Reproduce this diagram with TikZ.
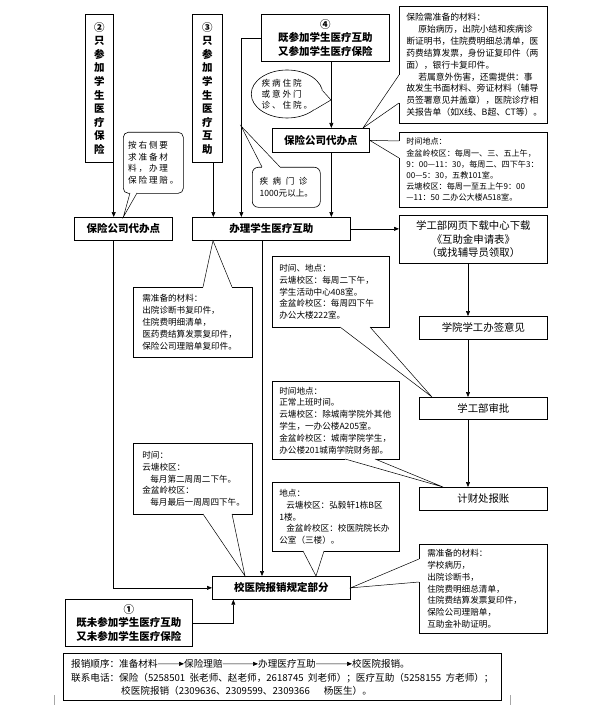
\documentclass[tikz,border=0pt]{standalone}
\usepackage{fontspec}
\setmainfont{Noto Sans CJK SC}
\newfontfamily\widefont[LetterSpace=22]{Noto Sans CJK SC}
\usetikzlibrary{arrows.meta,shapes.geometric}
\newcommand\myfs[2]{\fontsize{#1}{#2}\selectfont}
\newcommand\calltail[3]{%
  \fill[white] #1 -- #2 -- #3 -- cycle;
  \draw[white, line width=1.6pt] #1 -- #3;
  \draw[tailline] #1 -- #2 -- #3;}
\tikzset{
  boxs/.style={draw, line width=0.7pt, inner sep=0pt, anchor=north west, align=center},
  bld/.style={font=\bfseries\myfs{10.5}{13.6}},
  nrm/.style={font=\myfs{10.4}{13.3}},
  note/.style={draw, line width=0.6pt, inner ysep=0pt, inner xsep=7pt, anchor=north west, align=left, font=\myfs{8.6}{11.8}},
  arr/.style={line width=0.6pt, -{Triangle[length=5pt,width=4pt]}},
  tailline/.style={line width=0.5pt},
}
\begin{document}
\begin{tikzpicture}[x=1pt,y=-1pt]
\useasboundingbox (0,0) rectangle (593,722);

% ---------- main boxes
\node[boxs,bld,minimum width=28pt,minimum height=148pt] (n2) at (85,14) {②\\只\\参\\加\\学\\生\\医\\疗\\保\\险};
\node[boxs,bld,minimum width=30pt,minimum height=148pt] (n3) at (192,14) {③\\只\\参\\加\\学\\生\\医\\疗\\互\\助};
\node[boxs,bld,minimum width=128pt,minimum height=47pt] (n4) at (261,14) {④\\既参加学生医疗互助\\又参加学生医疗保险};
\node[boxs,bld,minimum width=98pt,minimum height=23pt] (lb) at (74,217) {保险公司代办点};
\node[boxs,bld,minimum width=97pt,minimum height=24pt] (mb) at (272,128) {保险公司代办点};
\node[boxs,bld,minimum width=158pt,minimum height=23pt] (mz) at (192,217) {办理学生医疗互助};
\node[boxs,nrm,minimum width=148pt,minimum height=48pt] (ul) at (399,215) {学工部网页下载中心下载\\《互助金申请表》\\（或找辅导员领取）};
\node[boxs,nrm,minimum width=128pt,minimum height=23pt] (xy) at (419,316) {学院学工办签意见};
\node[boxs,nrm,minimum width=128pt,minimum height=22pt] (sp) at (419,397) {学工部审批};
\node[boxs,nrm,minimum width=128pt,minimum height=23pt] (jc) at (419,487) {计财处报账};
\node[boxs,bld,minimum width=138pt,minimum height=23pt] (xb) at (212,576) {校医院报销规定部分};
\node[boxs,bld,minimum width=127pt,minimum height=47pt] (n1) at (65,599) {①\\既未参加学生医疗互助\\又未参加学生医疗保险};

% ---------- connectors
\coordinate (vx) at (468,0);
\coordinate (vy) at (262,0);
\draw[arr] (n2.south east) -- (n2.south east |- lb.north);
\draw[arr] ([xshift=6pt]n3.south) -- ([xshift=6pt]n3.south |- mz.north);
\draw[arr] (n4.west) -| ([xshift=-30pt]mz.north);
\draw[arr] ([xshift=6pt]n4.south) -- ([xshift=6pt]n4.south |- mb.north);
\draw[arr] ([xshift=10.5pt]mb.south) -- ([xshift=10.5pt]mb.south |- mz.north);
\draw[arr] (mz.east) -- (mz.east -| ul.west);
\draw[arr] (vx |- ul.south) -- (vx |- xy.north);
\draw[arr] (vx |- xy.south) -- (vx |- sp.north);
\draw[arr] (vx |- sp.south) -- (vx |- jc.north);
\draw[arr] (n2.south east |- lb.south) |- (xb.west);
\draw[arr] (vy |- mz.south) -- (vy |- xb.north);
\draw[arr] (n1.east) -| ([xshift=-48pt]xb.south);

% ---------- callouts
\node[draw, line width=0.6pt, rounded corners=5pt, anchor=north west, minimum width=60pt, minimum height=61pt, inner sep=0pt, align=left, font=\widefont\myfs{8.6}{11.6}] (c1) at (123,132) {按右侧要\\求准备材\\料，办理\\保险理赔。};
\calltail{(130,193)}{(lb.north)}{(137,193)}

\node[draw, ellipse, line width=0.6pt, minimum width=70pt, minimum height=48pt, inner sep=0pt, align=left, font=\widefont\myfs{8.6}{11}] (c2) at (287,94) {疾病住院\\或意外门\\诊、住院。};
\calltail{(c2.5)}{(331,100)}{(c2.-30)}

\node[draw, line width=0.6pt, rounded corners=6pt, anchor=north west, minimum width=68pt, minimum height=40pt, inner sep=0pt, align=left, font=\myfs{8.6}{12}] (c3) at (252,167) {疾\hspace{4.5pt}病\hspace{4.5pt}门\hspace{4.5pt}诊\\1000元以上。};
\calltail{(262,167)}{(241,126)}{(280,167)}

\node[note, minimum width=148pt, minimum height=117pt, text width=134pt, font=\myfs{8.8}{11.9}] (c4) at (399,6) {保险需准备的材料：\\\hspace*{12pt}原始病历，出院小结和疾病诊\\断证明书，住院费明细总清单，医\\药费结算发票，身份证复印件（两\\面），银行卡复印件。\\\hspace*{12pt}若属意外伤害，还需提供：事\\故发生书面材料、旁证材料（辅导\\员签署意见并盖章），医院诊疗相\\关报告单（如X线、B超、CT等）。};
\calltail{(399,75)}{(363,128)}{(399,103)}

\node[note, minimum width=148pt, minimum height=75pt, text width=134pt, font=\myfs{8.1}{11.2}] (c5) at (399,132) {\mbox{时间地点：}\\\mbox{金盆岭校区：每周一、三、五上午，}\\\mbox{9：00—11：30，每周二、四下午3：}\\\mbox{00—5：30，五教101室。}\\\mbox{云塘校区：每周一至五上午9：00}\\\mbox{—11：50 二办公大楼A518室。}};
\calltail{(399,141)}{(mb.east)}{(399,158)}

\node[note, minimum width=117pt, minimum height=71pt, text width=103pt] (c6) at (272,256) {时间、地点：\\云塘校区：每周二下午，\\学生活动中心408室。\\金盆岭校区：每周四下午\\办公大楼222室。};
\calltail{(340,327)}{([xshift=13pt]sp.north west)}{(370,327)}

\node[note, minimum width=119pt, minimum height=70pt, inner xsep=9pt, text width=101pt] (c7) at (133,287) {需准备的材料：\\出院诊断书复印件，\\住院费明细清单，\\医药费结算发票复印件，\\保险公司理赔单复印件。};
\calltail{(203,287)}{([xshift=21pt]mz.south west)}{(232,287)}

\node[note, minimum width=127pt, minimum height=78pt, text width=113pt] (c8) at (272,381) {时间地点：\\正常上班时间。\\云塘校区：除城南学院外其他\\学生，一办公楼A205室。\\金盆岭校区：城南学院学生，\\办公楼201城南学院财务部。};
\calltail{(345,459)}{([xshift=24pt]jc.north west)}{(375,459)}

\node[note, minimum width=127pt, minimum height=69pt, text width=113pt] (c9) at (272,482) {地点：\\\hspace*{7pt}云塘校区：弘毅轩1栋B区\\1楼。\\\hspace*{7pt}金盆岭校区：校医院院长办\\公室（三楼）。};
\calltail{(303,551)}{([xshift=104pt]xb.north west)}{(324,551)}

\node[note, minimum width=119pt, minimum height=71pt, inner xsep=9pt, text width=101pt] (c10) at (133,443) {时间：\\云塘校区：\\\hspace*{8pt}每月第二周周二下午。\\金盆岭校区：\\\hspace*{8pt}每月最后一周周四下午。};
\calltail{(203,514)}{([xshift=33pt]xb.north west)}{(232,514)}

\node[note, minimum width=128pt, minimum height=89pt, inner xsep=8pt, text width=112pt, font=\myfs{8.6}{11.7}] (c11) at (419,544) {需准备的材料：\\学校病历，\\出院诊断书，\\住院费明细总清单，\\住院费结算发票复印件，\\保险公司理赔单，\\互助金补助证明。};
\calltail{(419,559)}{(xb.east)}{(419,582)}

% ---------- bottom box
\node[draw, line width=0.7pt, anchor=north west, minimum width=438pt, minimum height=47pt, inner sep=0pt] (bb) at (63,653) {};
\begin{scope}[every node/.style={anchor=base west, inner sep=0pt, font=\myfs{9.6}{13}}]
\node (s1) at (71,667.5) {报销顺序：准备材料};
\node (s2) at (184,667.5) {保险理赔};
\node (s3) at (258,667.5) {办理医疗互助};
\node (s4) at (352,667.5) {校医院报销。};
\node (l2) at (71,681.5) {联系电话：保险（5258501\ \ 张老师、赵老师，2618745\ \ 刘老师）；医疗互助（5258155\ \ 方老师）；};
\node (l3) at (121,694.5) {校医院报销（2309636、2309599、2309366\hspace{14pt}杨医生）。};
\end{scope}
\draw[arr] (s1.east) -- (s2.west);
\draw[arr] (s2.east) -- (s3.west);
\draw[arr] (s3.east) -- (s4.west);

% page marks
\draw[gray!70, line width=0.6pt] (54,695) -- (54,705);
\draw[gray!70, line width=0.6pt] (510,695) -- (510,705);
\end{tikzpicture}
\end{document}
